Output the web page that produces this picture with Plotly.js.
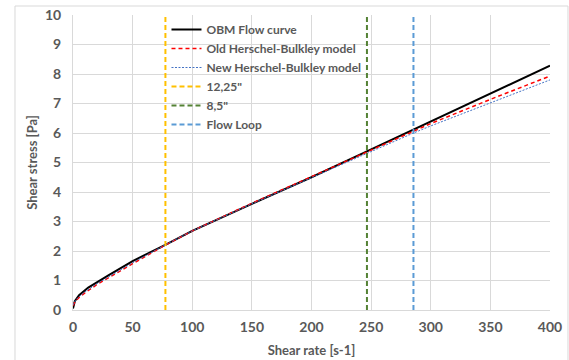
<!DOCTYPE html>
<html>
<head>
<meta charset="utf-8">
<script src="https://cdn.plot.ly/plotly-3.0.1.min.js"></script>
<style>html,body{margin:0;padding:0;background:#fff;}#chart{width:569px;height:360px;}</style>
</head>
<body>
<div id="chart"></div>
<script>
// Measured flow curve (shear rate [s-1], shear stress [Pa])
const obmRate   = [0, 1.5, 5.1, 12.8, 30, 50, 77, 100, 150, 200, 246, 285, 300, 350, 400];
const obmStress = [0.05, 0.3, 0.5, 0.76, 1.18, 1.66, 2.2, 2.68, 3.6, 4.5, 5.37, 6.1, 6.38, 7.33, 8.28];

// Old Herschel-Bulkley model
const oldRate   = [0, 2, 5, 10, 20, 30, 50, 77, 100, 150, 200, 246, 285, 300, 350, 400];
const oldStress = [0.15, 0.3, 0.42, 0.58, 0.86, 1.1, 1.57, 2.19, 2.68, 3.62, 4.52, 5.37, 6.06, 6.32, 7.14, 7.93];

// New Herschel-Bulkley model
const newRate   = [0, 2, 5, 10, 20, 30, 50, 77, 100, 150, 200, 246, 285, 300, 350, 400];
const newStress = [0.17, 0.32, 0.45, 0.61, 0.89, 1.13, 1.6, 2.2, 2.68, 3.6, 4.49, 5.32, 5.99, 6.24, 7.03, 7.8];

// Vertical reference lines (shear rate positions)
const lineNames = ['12,25"', '8,5"', 'Flow Loop'];
const lineRates = [77.5, 246.5, 285.5];
const lineColors = ['#ffc000', '#548235', '#5b9bd5'];
const yRange = [0, 10];

const traces = [
  {x: obmRate, y: obmStress, name: 'OBM Flow curve', mode: 'lines',
   line: {color: '#000000', width: 2}},
  {x: oldRate, y: oldStress, name: 'Old Herschel-Bulkley model', mode: 'lines',
   line: {color: '#ff0000', width: 1.5, dash: '4px,3px'}},
  {x: newRate, y: newStress, name: 'New Herschel-Bulkley model', mode: 'lines',
   line: {color: '#4472c4', width: 1, dash: '2px,1.5px'}}
];
lineRates.forEach((r, i) => {
  traces.push({x: [r, r], y: yRange, name: lineNames[i], mode: 'lines',
    line: {color: lineColors[i], width: 2, dash: '5px,3px'}});
});

const gray = '#595959';
const layout = {
  width: 569, height: 360,
  margin: {l: 73, r: 19, t: 15, b: 50, pad: 0},
  paper_bgcolor: '#ffffff', plot_bgcolor: '#ffffff',
  font: {family: 'Lato, "Open Sans", sans-serif', color: gray},
  showlegend: true,
  legend: {x: 0.196, y: 1.0, xanchor: 'left', yanchor: 'top', bgcolor: 'rgba(0,0,0,0)',
    font: {size: 12, color: gray, family: 'Lato, sans-serif', weight: 'bold'},
    tracegroupgap: 0, itemwidth: 30},
  xaxis: {range: [0, 400], dtick: 50, tick0: 0, showgrid: true, gridcolor: '#d9d9d9',
    zeroline: false, showline: true, linecolor: '#d9d9d9', ticks: '', ticklabelstandoff: 4,
    tickfont: {size: 14, color: gray, weight: 'bold'},
    title: {text: 'Shear rate [s-1]', font: {size: 13, color: gray, weight: 'bold'}, standoff: 12}},
  yaxis: {range: [0, 10], dtick: 1, tick0: 0, showgrid: true, gridcolor: '#d9d9d9',
    zeroline: false, showline: true, linecolor: '#d9d9d9', ticks: '', ticklabelstandoff: 8,
    tickfont: {size: 14, color: gray, weight: 'bold'},
    title: {text: 'Shear stress [Pa]', font: {size: 13, color: gray, weight: 'bold'}, standoff: 4}},
  shapes: [
    {type: 'rect', xref: 'paper', yref: 'paper', x0: -0.1216, x1: 1.0377, y0: -0.2, y1: 1.0305,
     line: {color: '#d9d9d9', width: 1}, fillcolor: 'rgba(0,0,0,0)', layer: 'below'},
    {type: 'rect', xref: 'paper', yref: 'paper', x0: 0.199, x1: 0.606, y0: 0.637, y1: 0.983,
     line: {width: 0}, fillcolor: '#ffffff', layer: 'between'}
  ]
};

Plotly.newPlot('chart', traces, layout, {displayModeBar: false, staticPlot: true});
</script>
</body>
</html>
